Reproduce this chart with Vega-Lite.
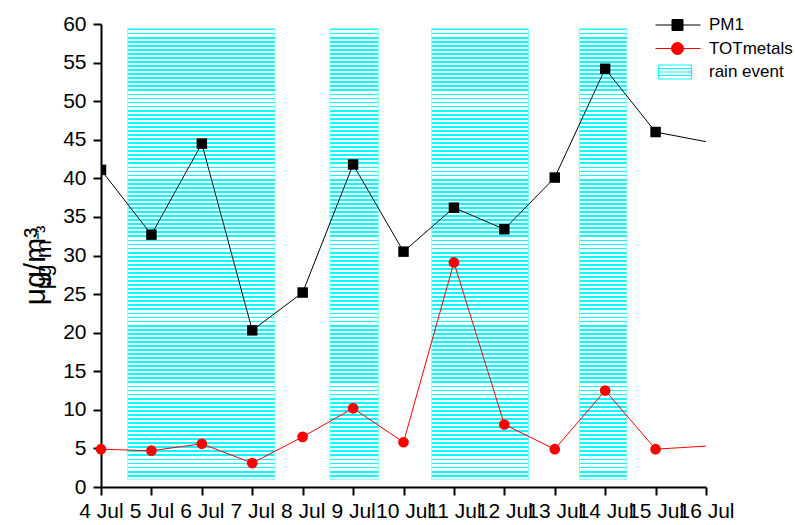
{
  "$schema": "https://vega.github.io/schema/vega-lite/v6.json",
  "width": 605,
  "height": 463,
  "autosize": {"type": "none"},
  "padding": {"left": 101, "top": 24, "right": 89, "bottom": 38},
  "config": {
    "font": "Liberation Sans",
    "view": {"stroke": null},
    "axis": {"grid": false, "domainColor": "black", "tickColor": "black", "labelColor": "black", "titleColor": "black"}
  },
  "resolve": {"axis": {"y": "independent"}},
  "datasets": {
    "rain": [
      {"start": 4.53, "end": 7.45},
      {"start": 8.54, "end": 9.5},
      {"start": 10.56, "end": 12.48},
      {"start": 13.49, "end": 14.43}
    ],
    "obs": [
      {"day": 4, "series": "PM1", "value": 41.1},
      {"day": 5, "series": "PM1", "value": 32.7},
      {"day": 6, "series": "PM1", "value": 44.5},
      {"day": 7, "series": "PM1", "value": 20.3},
      {"day": 8, "series": "PM1", "value": 25.2},
      {"day": 9, "series": "PM1", "value": 41.8},
      {"day": 10, "series": "PM1", "value": 30.5},
      {"day": 11, "series": "PM1", "value": 36.2},
      {"day": 12, "series": "PM1", "value": 33.4},
      {"day": 13, "series": "PM1", "value": 40.1},
      {"day": 14, "series": "PM1", "value": 54.2},
      {"day": 15, "series": "PM1", "value": 46.0},
      {"day": 17, "series": "PM1", "value": 43.5},
      {"day": 4, "series": "TOTmetals", "value": 4.9},
      {"day": 5, "series": "TOTmetals", "value": 4.7},
      {"day": 6, "series": "TOTmetals", "value": 5.6},
      {"day": 7, "series": "TOTmetals", "value": 3.1},
      {"day": 8, "series": "TOTmetals", "value": 6.5},
      {"day": 9, "series": "TOTmetals", "value": 10.2},
      {"day": 10, "series": "TOTmetals", "value": 5.8},
      {"day": 11, "series": "TOTmetals", "value": 29.1},
      {"day": 12, "series": "TOTmetals", "value": 8.1},
      {"day": 13, "series": "TOTmetals", "value": 4.9},
      {"day": 14, "series": "TOTmetals", "value": 12.5},
      {"day": 15, "series": "TOTmetals", "value": 4.9},
      {"day": 17, "series": "TOTmetals", "value": 5.7}
    ]
  },
  "layer": [
    {
      "data": {"name": "rain"},
      "mark": {
        "type": "rect",
        "stroke": "#7fffff",
        "strokeWidth": 1,
        "fill": {
          "gradient": "linear", "x1": 0, "y1": 0, "x2": 0, "y2": 1,
          "stops": [
{"offset":0,"color":"#0ff"},{"offset":0.004,"color":"#0ff"},{"offset":0.004,"color":"#fff"},{"offset":0.009,"color":"#fff"},
{"offset":0.009,"color":"#0ff"},{"offset":0.013,"color":"#0ff"},{"offset":0.013,"color":"#fff"},{"offset":0.018,"color":"#fff"},
{"offset":0.018,"color":"#0ff"},{"offset":0.022,"color":"#0ff"},{"offset":0.022,"color":"#fff"},{"offset":0.027,"color":"#fff"},
{"offset":0.027,"color":"#0ff"},{"offset":0.031,"color":"#0ff"},{"offset":0.031,"color":"#fff"},{"offset":0.036,"color":"#fff"},
{"offset":0.036,"color":"#0ff"},{"offset":0.04,"color":"#0ff"},{"offset":0.04,"color":"#fff"},{"offset":0.045,"color":"#fff"},
{"offset":0.045,"color":"#0ff"},{"offset":0.049,"color":"#0ff"},{"offset":0.049,"color":"#fff"},{"offset":0.054,"color":"#fff"},
{"offset":0.054,"color":"#0ff"},{"offset":0.058,"color":"#0ff"},{"offset":0.058,"color":"#fff"},{"offset":0.063,"color":"#fff"},
{"offset":0.063,"color":"#0ff"},{"offset":0.067,"color":"#0ff"},{"offset":0.067,"color":"#fff"},{"offset":0.072,"color":"#fff"},
{"offset":0.072,"color":"#0ff"},{"offset":0.076,"color":"#0ff"},{"offset":0.076,"color":"#fff"},{"offset":0.081,"color":"#fff"},
{"offset":0.081,"color":"#0ff"},{"offset":0.085,"color":"#0ff"},{"offset":0.085,"color":"#fff"},{"offset":0.09,"color":"#fff"},
{"offset":0.09,"color":"#0ff"},{"offset":0.094,"color":"#0ff"},{"offset":0.094,"color":"#fff"},{"offset":0.099,"color":"#fff"},
{"offset":0.099,"color":"#0ff"},{"offset":0.103,"color":"#0ff"},{"offset":0.103,"color":"#fff"},{"offset":0.108,"color":"#fff"},
{"offset":0.108,"color":"#0ff"},{"offset":0.112,"color":"#0ff"},{"offset":0.112,"color":"#fff"},{"offset":0.117,"color":"#fff"},
{"offset":0.117,"color":"#0ff"},{"offset":0.121,"color":"#0ff"},{"offset":0.121,"color":"#fff"},{"offset":0.126,"color":"#fff"},
{"offset":0.126,"color":"#0ff"},{"offset":0.13,"color":"#0ff"},{"offset":0.13,"color":"#fff"},{"offset":0.135,"color":"#fff"},
{"offset":0.135,"color":"#0ff"},{"offset":0.139,"color":"#0ff"},{"offset":0.139,"color":"#fff"},{"offset":0.144,"color":"#fff"},
{"offset":0.144,"color":"#0ff"},{"offset":0.148,"color":"#0ff"},{"offset":0.148,"color":"#fff"},{"offset":0.153,"color":"#fff"},
{"offset":0.153,"color":"#0ff"},{"offset":0.157,"color":"#0ff"},{"offset":0.157,"color":"#fff"},{"offset":0.162,"color":"#fff"},
{"offset":0.162,"color":"#0ff"},{"offset":0.166,"color":"#0ff"},{"offset":0.166,"color":"#fff"},{"offset":0.171,"color":"#fff"},
{"offset":0.171,"color":"#0ff"},{"offset":0.175,"color":"#0ff"},{"offset":0.175,"color":"#fff"},{"offset":0.18,"color":"#fff"},
{"offset":0.18,"color":"#0ff"},{"offset":0.184,"color":"#0ff"},{"offset":0.184,"color":"#fff"},{"offset":0.189,"color":"#fff"},
{"offset":0.189,"color":"#0ff"},{"offset":0.193,"color":"#0ff"},{"offset":0.193,"color":"#fff"},{"offset":0.198,"color":"#fff"},
{"offset":0.198,"color":"#0ff"},{"offset":0.202,"color":"#0ff"},{"offset":0.202,"color":"#fff"},{"offset":0.207,"color":"#fff"},
{"offset":0.207,"color":"#0ff"},{"offset":0.211,"color":"#0ff"},{"offset":0.211,"color":"#fff"},{"offset":0.216,"color":"#fff"},
{"offset":0.216,"color":"#0ff"},{"offset":0.22,"color":"#0ff"},{"offset":0.22,"color":"#fff"},{"offset":0.225,"color":"#fff"},
{"offset":0.225,"color":"#0ff"},{"offset":0.229,"color":"#0ff"},{"offset":0.229,"color":"#fff"},{"offset":0.234,"color":"#fff"},
{"offset":0.234,"color":"#0ff"},{"offset":0.238,"color":"#0ff"},{"offset":0.238,"color":"#fff"},{"offset":0.243,"color":"#fff"},
{"offset":0.243,"color":"#0ff"},{"offset":0.247,"color":"#0ff"},{"offset":0.247,"color":"#fff"},{"offset":0.252,"color":"#fff"},
{"offset":0.252,"color":"#0ff"},{"offset":0.256,"color":"#0ff"},{"offset":0.256,"color":"#fff"},{"offset":0.261,"color":"#fff"},
{"offset":0.261,"color":"#0ff"},{"offset":0.265,"color":"#0ff"},{"offset":0.265,"color":"#fff"},{"offset":0.27,"color":"#fff"},
{"offset":0.27,"color":"#0ff"},{"offset":0.274,"color":"#0ff"},{"offset":0.274,"color":"#fff"},{"offset":0.279,"color":"#fff"},
{"offset":0.279,"color":"#0ff"},{"offset":0.283,"color":"#0ff"},{"offset":0.283,"color":"#fff"},{"offset":0.288,"color":"#fff"},
{"offset":0.288,"color":"#0ff"},{"offset":0.292,"color":"#0ff"},{"offset":0.292,"color":"#fff"},{"offset":0.297,"color":"#fff"},
{"offset":0.297,"color":"#0ff"},{"offset":0.301,"color":"#0ff"},{"offset":0.301,"color":"#fff"},{"offset":0.306,"color":"#fff"},
{"offset":0.306,"color":"#0ff"},{"offset":0.31,"color":"#0ff"},{"offset":0.31,"color":"#fff"},{"offset":0.315,"color":"#fff"},
{"offset":0.315,"color":"#0ff"},{"offset":0.319,"color":"#0ff"},{"offset":0.319,"color":"#fff"},{"offset":0.324,"color":"#fff"},
{"offset":0.324,"color":"#0ff"},{"offset":0.328,"color":"#0ff"},{"offset":0.328,"color":"#fff"},{"offset":0.333,"color":"#fff"},
{"offset":0.333,"color":"#0ff"},{"offset":0.337,"color":"#0ff"},{"offset":0.337,"color":"#fff"},{"offset":0.342,"color":"#fff"},
{"offset":0.342,"color":"#0ff"},{"offset":0.346,"color":"#0ff"},{"offset":0.346,"color":"#fff"},{"offset":0.351,"color":"#fff"},
{"offset":0.351,"color":"#0ff"},{"offset":0.355,"color":"#0ff"},{"offset":0.355,"color":"#fff"},{"offset":0.36,"color":"#fff"},
{"offset":0.36,"color":"#0ff"},{"offset":0.364,"color":"#0ff"},{"offset":0.364,"color":"#fff"},{"offset":0.369,"color":"#fff"},
{"offset":0.369,"color":"#0ff"},{"offset":0.373,"color":"#0ff"},{"offset":0.373,"color":"#fff"},{"offset":0.378,"color":"#fff"},
{"offset":0.378,"color":"#0ff"},{"offset":0.382,"color":"#0ff"},{"offset":0.382,"color":"#fff"},{"offset":0.387,"color":"#fff"},
{"offset":0.387,"color":"#0ff"},{"offset":0.391,"color":"#0ff"},{"offset":0.391,"color":"#fff"},{"offset":0.396,"color":"#fff"},
{"offset":0.396,"color":"#0ff"},{"offset":0.4,"color":"#0ff"},{"offset":0.4,"color":"#fff"},{"offset":0.405,"color":"#fff"},
{"offset":0.405,"color":"#0ff"},{"offset":0.409,"color":"#0ff"},{"offset":0.409,"color":"#fff"},{"offset":0.414,"color":"#fff"},
{"offset":0.414,"color":"#0ff"},{"offset":0.418,"color":"#0ff"},{"offset":0.418,"color":"#fff"},{"offset":0.423,"color":"#fff"},
{"offset":0.423,"color":"#0ff"},{"offset":0.427,"color":"#0ff"},{"offset":0.427,"color":"#fff"},{"offset":0.432,"color":"#fff"},
{"offset":0.432,"color":"#0ff"},{"offset":0.436,"color":"#0ff"},{"offset":0.436,"color":"#fff"},{"offset":0.441,"color":"#fff"},
{"offset":0.441,"color":"#0ff"},{"offset":0.445,"color":"#0ff"},{"offset":0.445,"color":"#fff"},{"offset":0.45,"color":"#fff"},
{"offset":0.45,"color":"#0ff"},{"offset":0.454,"color":"#0ff"},{"offset":0.454,"color":"#fff"},{"offset":0.459,"color":"#fff"},
{"offset":0.459,"color":"#0ff"},{"offset":0.463,"color":"#0ff"},{"offset":0.463,"color":"#fff"},{"offset":0.468,"color":"#fff"},
{"offset":0.468,"color":"#0ff"},{"offset":0.472,"color":"#0ff"},{"offset":0.472,"color":"#fff"},{"offset":0.477,"color":"#fff"},
{"offset":0.477,"color":"#0ff"},{"offset":0.481,"color":"#0ff"},{"offset":0.481,"color":"#fff"},{"offset":0.486,"color":"#fff"},
{"offset":0.486,"color":"#0ff"},{"offset":0.49,"color":"#0ff"},{"offset":0.49,"color":"#fff"},{"offset":0.495,"color":"#fff"},
{"offset":0.495,"color":"#0ff"},{"offset":0.499,"color":"#0ff"},{"offset":0.499,"color":"#fff"},{"offset":0.504,"color":"#fff"},
{"offset":0.504,"color":"#0ff"},{"offset":0.508,"color":"#0ff"},{"offset":0.508,"color":"#fff"},{"offset":0.513,"color":"#fff"},
{"offset":0.513,"color":"#0ff"},{"offset":0.517,"color":"#0ff"},{"offset":0.517,"color":"#fff"},{"offset":0.522,"color":"#fff"},
{"offset":0.522,"color":"#0ff"},{"offset":0.526,"color":"#0ff"},{"offset":0.526,"color":"#fff"},{"offset":0.531,"color":"#fff"},
{"offset":0.531,"color":"#0ff"},{"offset":0.535,"color":"#0ff"},{"offset":0.535,"color":"#fff"},{"offset":0.54,"color":"#fff"},
{"offset":0.54,"color":"#0ff"},{"offset":0.544,"color":"#0ff"},{"offset":0.544,"color":"#fff"},{"offset":0.549,"color":"#fff"},
{"offset":0.549,"color":"#0ff"},{"offset":0.553,"color":"#0ff"},{"offset":0.553,"color":"#fff"},{"offset":0.558,"color":"#fff"},
{"offset":0.558,"color":"#0ff"},{"offset":0.562,"color":"#0ff"},{"offset":0.562,"color":"#fff"},{"offset":0.567,"color":"#fff"},
{"offset":0.567,"color":"#0ff"},{"offset":0.571,"color":"#0ff"},{"offset":0.571,"color":"#fff"},{"offset":0.576,"color":"#fff"},
{"offset":0.576,"color":"#0ff"},{"offset":0.58,"color":"#0ff"},{"offset":0.58,"color":"#fff"},{"offset":0.585,"color":"#fff"},
{"offset":0.585,"color":"#0ff"},{"offset":0.589,"color":"#0ff"},{"offset":0.589,"color":"#fff"},{"offset":0.594,"color":"#fff"},
{"offset":0.594,"color":"#0ff"},{"offset":0.598,"color":"#0ff"},{"offset":0.598,"color":"#fff"},{"offset":0.603,"color":"#fff"},
{"offset":0.603,"color":"#0ff"},{"offset":0.607,"color":"#0ff"},{"offset":0.607,"color":"#fff"},{"offset":0.612,"color":"#fff"},
{"offset":0.612,"color":"#0ff"},{"offset":0.616,"color":"#0ff"},{"offset":0.616,"color":"#fff"},{"offset":0.621,"color":"#fff"},
{"offset":0.621,"color":"#0ff"},{"offset":0.625,"color":"#0ff"},{"offset":0.625,"color":"#fff"},{"offset":0.63,"color":"#fff"},
{"offset":0.63,"color":"#0ff"},{"offset":0.634,"color":"#0ff"},{"offset":0.634,"color":"#fff"},{"offset":0.639,"color":"#fff"},
{"offset":0.639,"color":"#0ff"},{"offset":0.643,"color":"#0ff"},{"offset":0.643,"color":"#fff"},{"offset":0.648,"color":"#fff"},
{"offset":0.648,"color":"#0ff"},{"offset":0.652,"color":"#0ff"},{"offset":0.652,"color":"#fff"},{"offset":0.657,"color":"#fff"},
{"offset":0.657,"color":"#0ff"},{"offset":0.661,"color":"#0ff"},{"offset":0.661,"color":"#fff"},{"offset":0.666,"color":"#fff"},
{"offset":0.666,"color":"#0ff"},{"offset":0.67,"color":"#0ff"},{"offset":0.67,"color":"#fff"},{"offset":0.675,"color":"#fff"},
{"offset":0.675,"color":"#0ff"},{"offset":0.679,"color":"#0ff"},{"offset":0.679,"color":"#fff"},{"offset":0.684,"color":"#fff"},
{"offset":0.684,"color":"#0ff"},{"offset":0.688,"color":"#0ff"},{"offset":0.688,"color":"#fff"},{"offset":0.693,"color":"#fff"},
{"offset":0.693,"color":"#0ff"},{"offset":0.697,"color":"#0ff"},{"offset":0.697,"color":"#fff"},{"offset":0.702,"color":"#fff"},
{"offset":0.702,"color":"#0ff"},{"offset":0.706,"color":"#0ff"},{"offset":0.706,"color":"#fff"},{"offset":0.711,"color":"#fff"},
{"offset":0.711,"color":"#0ff"},{"offset":0.715,"color":"#0ff"},{"offset":0.715,"color":"#fff"},{"offset":0.72,"color":"#fff"},
{"offset":0.72,"color":"#0ff"},{"offset":0.724,"color":"#0ff"},{"offset":0.724,"color":"#fff"},{"offset":0.729,"color":"#fff"},
{"offset":0.729,"color":"#0ff"},{"offset":0.733,"color":"#0ff"},{"offset":0.733,"color":"#fff"},{"offset":0.738,"color":"#fff"},
{"offset":0.738,"color":"#0ff"},{"offset":0.742,"color":"#0ff"},{"offset":0.742,"color":"#fff"},{"offset":0.747,"color":"#fff"},
{"offset":0.747,"color":"#0ff"},{"offset":0.751,"color":"#0ff"},{"offset":0.751,"color":"#fff"},{"offset":0.756,"color":"#fff"},
{"offset":0.756,"color":"#0ff"},{"offset":0.76,"color":"#0ff"},{"offset":0.76,"color":"#fff"},{"offset":0.765,"color":"#fff"},
{"offset":0.765,"color":"#0ff"},{"offset":0.769,"color":"#0ff"},{"offset":0.769,"color":"#fff"},{"offset":0.774,"color":"#fff"},
{"offset":0.774,"color":"#0ff"},{"offset":0.778,"color":"#0ff"},{"offset":0.778,"color":"#fff"},{"offset":0.783,"color":"#fff"},
{"offset":0.783,"color":"#0ff"},{"offset":0.787,"color":"#0ff"},{"offset":0.787,"color":"#fff"},{"offset":0.792,"color":"#fff"},
{"offset":0.792,"color":"#0ff"},{"offset":0.796,"color":"#0ff"},{"offset":0.796,"color":"#fff"},{"offset":0.801,"color":"#fff"},
{"offset":0.801,"color":"#0ff"},{"offset":0.805,"color":"#0ff"},{"offset":0.805,"color":"#fff"},{"offset":0.81,"color":"#fff"},
{"offset":0.81,"color":"#0ff"},{"offset":0.814,"color":"#0ff"},{"offset":0.814,"color":"#fff"},{"offset":0.819,"color":"#fff"},
{"offset":0.819,"color":"#0ff"},{"offset":0.823,"color":"#0ff"},{"offset":0.823,"color":"#fff"},{"offset":0.828,"color":"#fff"},
{"offset":0.828,"color":"#0ff"},{"offset":0.832,"color":"#0ff"},{"offset":0.832,"color":"#fff"},{"offset":0.837,"color":"#fff"},
{"offset":0.837,"color":"#0ff"},{"offset":0.841,"color":"#0ff"},{"offset":0.841,"color":"#fff"},{"offset":0.846,"color":"#fff"},
{"offset":0.846,"color":"#0ff"},{"offset":0.85,"color":"#0ff"},{"offset":0.85,"color":"#fff"},{"offset":0.855,"color":"#fff"},
{"offset":0.855,"color":"#0ff"},{"offset":0.859,"color":"#0ff"},{"offset":0.859,"color":"#fff"},{"offset":0.864,"color":"#fff"},
{"offset":0.864,"color":"#0ff"},{"offset":0.868,"color":"#0ff"},{"offset":0.868,"color":"#fff"},{"offset":0.873,"color":"#fff"},
{"offset":0.873,"color":"#0ff"},{"offset":0.877,"color":"#0ff"},{"offset":0.877,"color":"#fff"},{"offset":0.882,"color":"#fff"},
{"offset":0.882,"color":"#0ff"},{"offset":0.886,"color":"#0ff"},{"offset":0.886,"color":"#fff"},{"offset":0.891,"color":"#fff"},
{"offset":0.891,"color":"#0ff"},{"offset":0.895,"color":"#0ff"},{"offset":0.895,"color":"#fff"},{"offset":0.9,"color":"#fff"},
{"offset":0.9,"color":"#0ff"},{"offset":0.904,"color":"#0ff"},{"offset":0.904,"color":"#fff"},{"offset":0.909,"color":"#fff"},
{"offset":0.909,"color":"#0ff"},{"offset":0.913,"color":"#0ff"},{"offset":0.913,"color":"#fff"},{"offset":0.918,"color":"#fff"},
{"offset":0.918,"color":"#0ff"},{"offset":0.922,"color":"#0ff"},{"offset":0.922,"color":"#fff"},{"offset":0.927,"color":"#fff"},
{"offset":0.927,"color":"#0ff"},{"offset":0.931,"color":"#0ff"},{"offset":0.931,"color":"#fff"},{"offset":0.936,"color":"#fff"},
{"offset":0.936,"color":"#0ff"},{"offset":0.94,"color":"#0ff"},{"offset":0.94,"color":"#fff"},{"offset":0.945,"color":"#fff"},
{"offset":0.945,"color":"#0ff"},{"offset":0.949,"color":"#0ff"},{"offset":0.949,"color":"#fff"},{"offset":0.954,"color":"#fff"},
{"offset":0.954,"color":"#0ff"},{"offset":0.958,"color":"#0ff"},{"offset":0.958,"color":"#fff"},{"offset":0.963,"color":"#fff"},
{"offset":0.963,"color":"#0ff"},{"offset":0.967,"color":"#0ff"},{"offset":0.967,"color":"#fff"},{"offset":0.972,"color":"#fff"},
{"offset":0.972,"color":"#0ff"},{"offset":0.976,"color":"#0ff"},{"offset":0.976,"color":"#fff"},{"offset":0.981,"color":"#fff"},
{"offset":0.981,"color":"#0ff"},{"offset":0.985,"color":"#0ff"},{"offset":0.985,"color":"#fff"},{"offset":0.99,"color":"#fff"},
{"offset":0.99,"color":"#0ff"},{"offset":0.994,"color":"#0ff"},{"offset":0.994,"color":"#fff"},{"offset":0.999,"color":"#fff"},
{"offset":0.999,"color":"#0ff"},{"offset":1,"color":"#0ff"}
          ]
        }
      },
      "encoding": {
        "x": {
          "field": "start", "type": "quantitative",
          "scale": {"domain": [4, 16], "nice": false, "zero": false},
          "axis": {
            "title": null,
            "values": [4, 5, 6, 7, 8, 9, 10, 11, 12, 13, 14, 15, 16],
            "labelExpr": "datum.value + ' Jul'",
            "labelOverlap": false, "labelFlush": false,
            "labelFontSize": 21, "labelPadding": 5,
            "tickSize": 8, "tickWidth": 2, "domainWidth": 2
          }
        },
        "x2": {"field": "end"},
        "y": {"datum": 1, "type": "quantitative", "scale": {"domain": [0, 60], "nice": false}, "axis": null},
        "y2": {"datum": 59.4}
      }
    },
    {
      "data": {"name": "obs"},
      "mark": {"type": "line", "strokeWidth": 1, "clip": true},
      "encoding": {
        "x": {"field": "day", "type": "quantitative"},
        "y": {
          "field": "value", "type": "quantitative",
          "axis": {
            "orient": "left",
            "values": [0, 5, 10, 15, 20, 25, 30, 35, 40, 45, 50, 55, 60],
            "labelOverlap": false, "labelFlush": false,
            "labelFontSize": 21, "labelPadding": 7,
            "tickSize": 8, "tickWidth": 2, "domainWidth": 2,
            "title": "μg/m³",
            "titleFontSize": 30, "titleFontWeight": "normal",
            "titlePadding": 12, "titleY": 242
          }
        },
        "color": {
          "field": "series", "type": "nominal",
          "scale": {"domain": ["PM1", "TOTmetals", "rain event"], "range": ["black", "red", "cyan"]},
          "legend": {
            "title": null, "orient": "none", "legendX": 566, "legendY": -9.5,
            "padding": 0, "labelFontSize": 17, "labelColor": "black",
            "labelOffset": 21, "rowPadding": 4.5,
            "symbolSize": 400, "symbolStrokeWidth": 1,
            "encode": {
              "symbols": {
                "update": {
                  "shape": {"signal": "datum.value === 'PM1' ? 'M-2.2,0H2.3M-0.55,-0.55H0.55V0.55H-0.55Z' : datum.value === 'TOTmetals' ? 'M-2.2,0H2.3M0.6,0A0.6,0.6,0,1,1,-0.6,0A0.6,0.6,0,1,1,0.6,0Z' : 'M-1.9,-0.7H1.4V0.7H-1.9ZM-1.9,-0.35H1.4M-1.9,0H1.4M-1.9,0.35H1.4'"},
                  "fill": {"signal": "datum.value === 'PM1' ? 'black' : datum.value === 'TOTmetals' ? 'red' : 'transparent'"},
                  "stroke": {"signal": "datum.value === 'PM1' ? 'black' : datum.value === 'TOTmetals' ? 'red' : 'cyan'"},
                  "strokeWidth": {"value": 1},
                  "size": {"value": 400},
                  "opacity": {"value": 1},
                  "fillOpacity": {"value": 1},
                  "strokeOpacity": {"value": 1}
                }
              }
            }
          }
        }
      }
    },
    {
      "data": {"name": "obs"},
      "transform": [{"filter": "datum.series === 'PM1'"}],
      "mark": {"type": "point", "shape": "square", "filled": true, "size": 110, "color": "black", "opacity": 1, "clip": true},
      "encoding": {
        "x": {"field": "day", "type": "quantitative"},
        "y": {
          "field": "value", "type": "quantitative",
          "axis": {
            "orient": "left", "labels": false, "ticks": false, "domain": false, "grid": false,
            "minExtent": 0, "title": "μg m⁻³", "titleFontSize": 22, "titleFontWeight": "normal",
            "titlePadding": 46, "titleY": 233
          }
        }
      }
    },
    {
      "data": {"name": "obs"},
      "transform": [{"filter": "datum.series === 'TOTmetals' && datum.day <= 16"}],
      "mark": {"type": "point", "shape": "circle", "filled": true, "size": 115, "color": "red", "opacity": 1},
      "encoding": {
        "x": {"field": "day", "type": "quantitative"},
        "y": {"field": "value", "type": "quantitative", "axis": null}
      }
    }
  ]
}
